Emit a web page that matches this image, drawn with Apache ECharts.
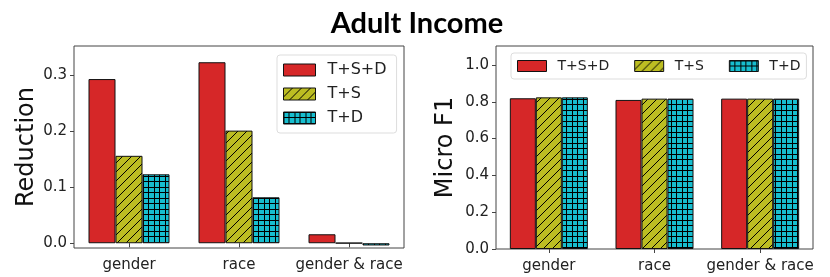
<!DOCTYPE html>
<html><head><meta charset="utf-8">
<script src="https://cdn.jsdelivr.net/npm/echarts@6/dist/echarts.min.js"></script>
<style>html,body{margin:0;padding:0;background:#fff}#c{width:830px;height:277px}</style>
</head><body><div id="c"></div>
<script>
const categories = ['gender', 'race', 'gender & race'];
const seriesNames = ['T+S+D', 'T+S', 'T+D'];
const reductionTSD = [0.293, 0.323, 0.016];
const reductionTS = [0.156, 0.201, 0.0005];
const reductionTD = [0.123, 0.082, -0.004];
const f1TSD = [0.819, 0.810, 0.817];
const f1TS = [0.824, 0.817, 0.817];
const f1TD = [0.824, 0.817, 0.817];
const reductionTicks = [0, 0.1, 0.2, 0.3];
const f1Ticks = [0, 0.2, 0.4, 0.6, 0.8, 1.0];

function hatchPattern() {
  const s = 9, c = document.createElement('canvas');
  c.width = s; c.height = s;
  const g = c.getContext('2d');
  g.fillStyle = '#bcbd22'; g.fillRect(0, 0, s, s);
  g.strokeStyle = '#000'; g.lineWidth = 1;
  for (const o of [-s, 0, s]) {
    g.beginPath(); g.moveTo(o - 1, s + 1); g.lineTo(o + s + 1, -1); g.stroke();
  }
  return { image: c, repeat: 'repeat' };
}
function gridPattern() {
  const s = 11, c = document.createElement('canvas');
  c.width = s; c.height = s;
  const g = c.getContext('2d');
  g.fillStyle = '#17becf'; g.fillRect(0, 0, s, s);
  g.fillStyle = '#000';
  g.fillRect(0, 0, 1, s); g.fillRect(5, 0, 1, s);
  g.fillRect(0, 0, s, 1); g.fillRect(0, 5, s, 1);
  return { image: c, repeat: 'repeat' };
}
const colors = ['#d62728', hatchPattern(), gridPattern()];

const font = 'DejaVu Sans';
const tickLabel = { fontFamily: font, fontSize: 15, color: '#222' };

function yAxis(idx, min, max, ticks, name, gap) {
  return {
    gridIndex: idx, type: 'value', min: min, max: max,
    name: name, nameLocation: 'middle', nameGap: gap, nameRotate: 90,
    nameTextStyle: { fontFamily: font, fontSize: 24, color: '#111' },
    axisLine: { show: false },
    axisTick: { show: true, length: 4, lineStyle: { color: '#444' }, customValues: ticks },
    axisLabel: Object.assign({ margin: 7, customValues: ticks, formatter: v => v.toFixed(1) }, tickLabel),
    splitLine: { show: false }
  };
}
function xAxis(idx) {
  return {
    gridIndex: idx, type: 'category', data: categories,
    axisLine: { show: false },
    axisTick: { show: true, alignWithLabel: true, length: 4, lineStyle: { color: '#444' } },
    axisLabel: Object.assign({ margin: 10, interval: 0 }, tickLabel)
  };
}
function bars(idx, data, name, k, w) {
  return {
    type: 'bar', name: name, xAxisIndex: idx, yAxisIndex: idx, data: data,
    barWidth: w, barGap: '0%',
    itemStyle: { color: colors[k], borderColor: '#111', borderWidth: 1 },
    emphasis: { disabled: true }
  };
}
const legendItemStyle = { borderWidth: 1, borderColor: '#111' };

const chart = echarts.init(document.getElementById('c'), null, { renderer: 'canvas' });
chart.setOption({
  animation: false,
  backgroundColor: '#fff',
  title: {
    text: 'Adult Income', left: 412, top: 4, textAlign: 'center',
    textStyle: { fontFamily: 'Lato', fontWeight: 'bold', fontSize: 29, color: '#000' }
  },
  grid: [
    { left: 74, right: 426, top: 46, bottom: 29, show: true, borderColor: '#444', borderWidth: 1 },
    { left: 496, right: 17, top: 46, bottom: 28, show: true, borderColor: '#444', borderWidth: 1 }
  ],
  xAxis: [xAxis(0), xAxis(1)],
  yAxis: [
    yAxis(0, -0.0085, 0.352, reductionTicks, 'Reduction', 35),
    yAxis(1, 0, 1.103, f1Ticks, 'Micro F1', 38)
  ],
  legend: [
    {
      data: seriesNames, orient: 'vertical', left: 277, top: 55,
      icon: 'rect', itemWidth: 32, itemHeight: 12, itemGap: 8,
      itemStyle: legendItemStyle,
      padding: [7, 10, 7, 6],
      borderColor: '#ddd', borderWidth: 1, borderRadius: 3,
      textStyle: { fontFamily: font, fontSize: 16, color: '#222', padding: [0, 0, 0, 7] },
      selectedMode: false
    },
    {
      data: seriesNames, orient: 'horizontal', left: 511, top: 53,
      icon: 'rect', itemWidth: 29, itemHeight: 11, itemGap: 25,
      itemStyle: legendItemStyle,
      padding: [6, 6, 6, 6],
      borderColor: '#ddd', borderWidth: 1, borderRadius: 3,
      textStyle: { fontFamily: font, fontSize: 14, color: '#222', padding: [0, 0, 0, 6] },
      selectedMode: false
    }
  ],
  series: [
    bars(0, reductionTSD, seriesNames[0], 0, 27),
    bars(0, reductionTS, seriesNames[1], 1, 27),
    bars(0, reductionTD, seriesNames[2], 2, 27),
    bars(1, f1TSD, seriesNames[0], 0, 26),
    bars(1, f1TS, seriesNames[1], 1, 26),
    bars(1, f1TD, seriesNames[2], 2, 26)
  ]
});
</script></body></html>
